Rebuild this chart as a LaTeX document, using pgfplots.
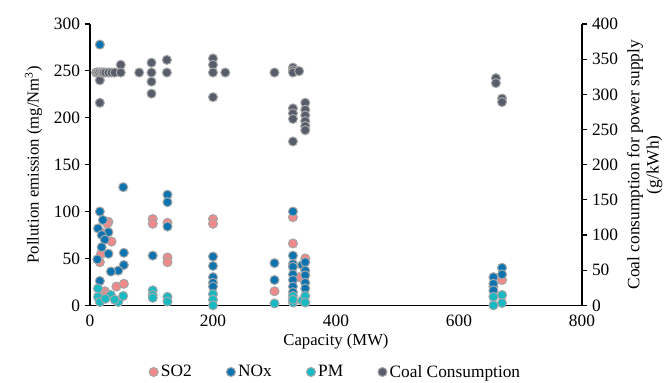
\documentclass[border=0pt]{standalone}
\usepackage{fontspec}
\setmainfont{Liberation Serif}
\usepackage{pgfplots}
\pgfplotsset{compat=1.18}
\definecolor{cso}{HTML}{F08A8A}
\definecolor{cno}{HTML}{0E74B0}
\definecolor{cpm}{HTML}{17B9C3}
\definecolor{cco}{HTML}{585D6C}
\definecolor{cedge}{HTML}{A6A6A6}
\pgfplotsset{
  common/.style={
    scale only axis, width=369pt, height=211pt,
    xmin=0, xmax=800,
    /pgf/number format/assume math mode=true,
    tick label style={font=\fontsize{13}{15}\selectfont},
    label style={font=\fontsize{12.5}{14}\selectfont},
    axis line style={black, line width=0.8pt},
    tick align=outside, major tick length=4pt,
    tick style={black, line width=0.8pt},
    xtick style={draw=none},
  },
  pt/.style={only marks, mark=*, mark size=3.4pt, mark options={draw=cedge, line width=0.75pt, fill=#1}},
}
\begin{document}
\begin{tikzpicture}
\begin{axis}[common, name=ax,
  axis x line*=bottom, axis y line*=left,
  ymin=0, ymax=300, ytick={0,50,...,300},
  xtick={0,200,...,800},
  xlabel={Capacity (MW)},
  xlabel style={yshift=2pt},
  ylabel={Pollution emission (mg/Nm\textsuperscript{3})},
  ylabel style={yshift=2pt},
]
% SO2
\addplot[pt=cso] coordinates {
(30,89)(28,87)(21,77)(35,68)(18,55)(16,46)(43,20)(55,23)(24,15)(28,12)
(102,92)(102,87)(126,88)(126,51)(126,46)(200,92)(200,87)(300,15)
(330,94)(330,66)(340,30)(350,50)(670,27)(656,20)
};
% NOx
\addplot[pt=cno] coordinates {
(16,278)(16,100)(21,91)(13,82)(30,78)(19,75)(24,70)(19,62)(30,55)(12,49)
(55,56)(54,126)(55,43)(46,37)(34,36)(16,26)(102,53)(126,118)(126,110)(126,84)
(200,52)(200,42)(200,30)(200,24)(200,20)(300,45)(300,27)
(330,100)(330,53)(330,44)(330,41)(330,33)(330,27)(330,20)(330,14)
(345,43)(350,46)(350,37)(350,32)(350,24)(350,18)
(656,30)(656,23)(656,16)(670,40)(670,33)
};
% PM
\addplot[pt=cpm] coordinates {
(13,18)(13,9)(16,3.5)(34,11)(46,3.5)(54,10)(25,7)(40,6)
(102,16)(102,11)(102,8)(126,9)(126,4)(200,12)(200,6)(200,0)(300,2)
(330,10)(330,3)(330,6)(345,5)(350,10)(350,3)(656,9)(656,0)(670,11)(670,2.5)
};
\end{axis}
\begin{axis}[common,
  axis x line=none, axis y line*=right,
  ymin=0, ymax=400, ytick={0,50,...,400},
  ylabel={Coal consumption for power supply\\(g/kWh)},
  ylabel style={align=center, font=\fontsize{13}{14.5}\selectfont},
  legend style={at={(0.5,0)}, anchor=center, yshift=-50pt, draw=none, fill=none,
    legend columns=-1, font=\fontsize{13}{15}\selectfont,
    /tikz/every even column/.append style={column sep=24pt}},
  legend cell align=left,
]
\addlegendimage{pt=cso}
\addlegendimage{pt=cno}
\addlegendimage{pt=cpm}
\addplot[pt=cco] coordinates {
(10,331)(12,331)(14,331)(15,331)(16,320)(16,288)(18,331)(20,331)(22,331)(25,331)
(30,331)(35,331)(40,331)(50,342)(50,331)(80,331)
(100,345)(100,318)(100,301)(100,331)(125,349)(125,331)
(200,351)(200,342)(200,331)(200,296)(220,331)(300,331)
(330,338)(330,334)(330,331)(340,333)(330,280)(330,273)(330,265)(330,233)
(350,288)(350,278)(350,270)(350,262)(350,255)(350,249)
(660,323)(660,316)(670,294)(670,289)
};
\legend{SO2,NOx,PM,Coal Consumption}
\end{axis}
\pgfresetboundingbox
\path ([shift={(-67.5pt,-57.75pt)}]ax.south west) rectangle ([shift={(63.75pt,18pt)}]ax.north east);
\end{tikzpicture}
\end{document}
